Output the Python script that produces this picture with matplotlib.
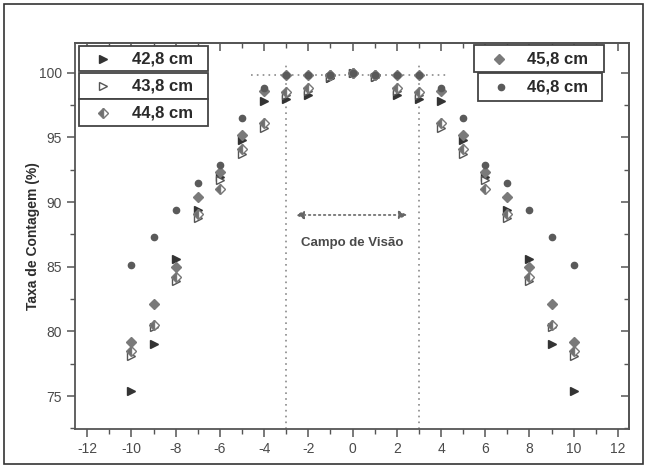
import matplotlib
matplotlib.use("Agg")
import matplotlib.pyplot as plt
from matplotlib.patches import Rectangle
from matplotlib.lines import Line2D
from matplotlib.ticker import MultipleLocator

plt.rcParams['font.family'] = ['Liberation Sans', 'DejaVu Sans']
plt.rcParams['axes.unicode_minus'] = False

positions = [-10, -9, -8, -7, -6, -5, -4, -3, -2, -1, 0, 1, 2, 3, 4, 5, 6, 7, 8, 9, 10]
s428 = [75.4, 79.0, 85.6, 89.4, 91.9, 94.8, 97.8, 98.0, 98.3, 99.6, 100.0,
        99.7, 98.3, 98.0, 97.8, 94.8, 91.9, 89.4, 85.6, 79.0, 75.4]
s438 = [78.1, 80.3, 83.9, 88.8, 91.7, 93.7, 95.7, 98.3, 98.6, 99.7, 100.0,
        99.7, 98.6, 98.3, 95.7, 93.7, 91.7, 88.8, 83.9, 80.3, 78.1]
s448 = [78.5, 80.5, 84.2, 89.1, 91.0, 94.1, 96.1, 98.5, 98.8, 99.8, 100.0,
        99.8, 98.8, 98.5, 96.1, 94.1, 91.0, 89.1, 84.2, 80.5, 78.5]
s458 = [79.2, 82.1, 85.0, 90.4, 92.3, 95.2, 98.6, 99.8, 99.8, 99.8, 100.0,
        99.8, 99.8, 99.8, 98.6, 95.2, 92.3, 90.4, 85.0, 82.1, 79.2]
s468 = [85.1, 87.3, 89.4, 91.5, 92.9, 96.5, 98.8, 99.8, 99.8, 99.8, 100.0,
        99.8, 99.8, 99.8, 98.8, 96.5, 92.9, 91.5, 89.4, 87.3, 85.1]
series_labels = ['42,8 cm', '43,8 cm', '44,8 cm', '45,8 cm', '46,8 cm']

W, H = 647, 468
fig = plt.figure(figsize=(W / 100, H / 100), dpi=100)
L, R, T, B = 75, 629, 43, 429
ax = fig.add_axes([L / W, 1 - B / H, (R - L) / W, (B - T) / H])

dark = '#333333'
mid = '#6e6e6e'
styles = [
    dict(marker='>', color=dark, markerfacecolor=dark, markeredgecolor=dark, markersize=6),
    dict(marker='>', color=dark, markerfacecolor='white', markeredgecolor='#555555', markersize=6, markeredgewidth=1.0),
    dict(marker='D', color=mid, markerfacecolor=mid, markerfacecoloralt='white', fillstyle='left',
         markeredgecolor='#777777', markersize=5),
    dict(marker='D', color=mid, markerfacecolor='#7a7a7a', markeredgecolor='#7a7a7a', markersize=5),
    dict(marker='o', color=mid, markerfacecolor='#5a5a5a', markeredgecolor='#5a5a5a', markersize=4.5),
]
all_series = [s428, s438, s448, s458, s468]
for vals, st in zip(all_series, styles):
    ax.plot(positions, vals, linestyle='none', zorder=3, **st)

ax.set_xlim(-12.55, 12.5)
ax.set_ylim(72.45, 102.3)
ax.xaxis.set_major_locator(MultipleLocator(2))
ax.xaxis.set_minor_locator(MultipleLocator(1))
ax.set_yticks([75, 80, 85, 90, 95, 100])
ax.yaxis.set_minor_locator(MultipleLocator(2.5))

spine_c = '#555555'
for sp in ax.spines.values():
    sp.set_color(spine_c)
    sp.set_linewidth(1.3)
ax.tick_params(axis='both', which='major', direction='out', length=6, width=1.1,
               color=spine_c, labelcolor='#4a4a4a', labelsize=10)
ax.tick_params(axis='both', which='minor', direction='out', length=3.5, width=1.0, color=spine_c)
secx = ax.secondary_xaxis('top')
secx.xaxis.set_major_locator(MultipleLocator(2))
secx.xaxis.set_minor_locator(MultipleLocator(1))
secx.tick_params(which='major', direction='in', length=6, width=1.1, color=spine_c, labeltop=False)
secx.tick_params(which='minor', direction='in', length=3.5, width=1.0, color=spine_c)
secx.spines['top'].set_color(spine_c)
secx.spines['top'].set_linewidth(1.3)
secy = ax.secondary_yaxis('right')
secy.set_yticks([75, 80, 85, 90, 95, 100])
secy.yaxis.set_minor_locator(MultipleLocator(2.5))
secy.tick_params(which='major', direction='in', length=6, width=1.1, color=spine_c, labelright=False)
secy.tick_params(which='minor', direction='in', length=3.5, width=1.0, color=spine_c)
secy.spines['right'].set_color(spine_c)
secy.spines['right'].set_linewidth(1.3)

ax.set_ylabel('Taxa de Contagem (%)', fontsize=10, fontweight='bold', color='#2e2e2e')
ax.yaxis.set_label_coords((40 - L) / (R - L), 0.5)

dot_c = '#8a8a8a'
ax.plot([-4.6, 4.3], [99.8, 99.8], linestyle=(0, (1, 2.5)), color=dot_c, lw=1.2, zorder=2)
for xv in (-3, 3):
    ax.plot([xv, xv], [72.45, 100.8], linestyle=(0, (1, 2.5)), color=dot_c, lw=1.2, zorder=2)
ax.annotate('', xy=(-2.7, 89.0), xytext=(2.6, 89.0),
            arrowprops=dict(arrowstyle='<|-|>', linestyle=(0, (1, 2)), color='#666666',
                            lw=1.2, mutation_scale=12))
ax.text(0, 86.8, 'Campo de Visão', ha='center', va='center', fontsize=9.5,
        fontweight='bold', color='#4a4a4a')

def fx(px):
    return px / W

def fy(py):
    return 1 - py / H

boxes = [
    (79, 46, 208, 71, 103, 132),
    (79, 73, 208, 99, 103, 132),
    (79, 99, 208, 126, 103, 132),
    (474, 45, 604, 72, 499, 527),
    (478, 73, 602, 101, 501, 527),
]
for (x0, y0, x1, y1, mx, tx), st, lab in zip(boxes, styles, series_labels):
    fig.add_artist(Rectangle((fx(x0), fy(y1)), fx(x1) - fx(x0), fy(y0) - fy(y1),
                             transform=fig.transFigure, facecolor='white',
                             edgecolor='#444444', lw=1.3, zorder=5))
    yc = (y0 + y1) / 2
    fig.add_artist(Line2D([fx(mx)], [fy(yc)], transform=fig.transFigure, linestyle='none',
                          zorder=6, **st))
    fig.text(fx(tx), fy(yc), lab, ha='left', va='center', fontsize=12,
             fontweight='bold', color='#2a2a2a', zorder=6)

fig.add_artist(Rectangle((fx(4), fy(464)), fx(643) - fx(4), fy(4) - fy(464),
                         transform=fig.transFigure, facecolor='none',
                         edgecolor='#333333', lw=1.2, zorder=0))

fig.savefig('out.png', dpi=100)
